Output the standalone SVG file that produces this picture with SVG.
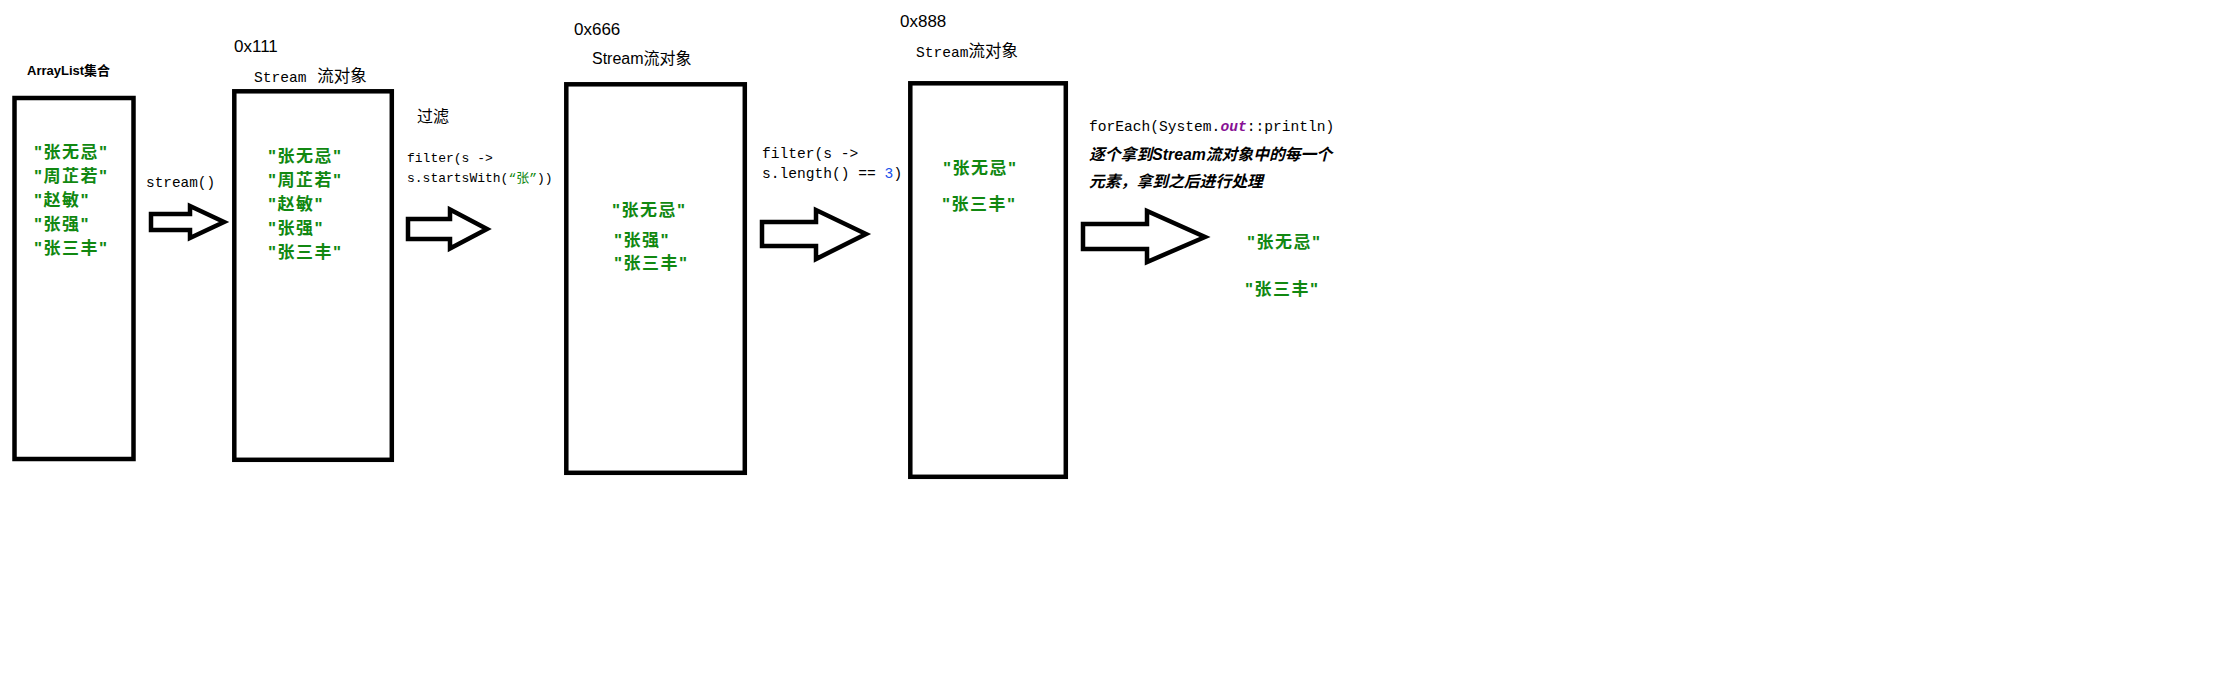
<svg xmlns="http://www.w3.org/2000/svg" width="2220" height="683" viewBox="0 0 2220 683">
<style>
.box{fill:none;stroke:#000;stroke-width:4.5}
.arr{fill:#fff;stroke:#000;stroke-width:4.5;stroke-linejoin:miter}
.g{fill:#118811;font-family:"Liberation Sans","Noto Sans CJK SC",sans-serif;font-size:17px;font-weight:bold;letter-spacing:1.5px}
.s{fill:#000;font-family:"Liberation Sans","Noto Sans CJK SC",sans-serif;font-size:17px}
.m{fill:#000;font-family:"Liberation Mono","Noto Sans CJK SC",monospace;font-size:14.6px}
.m13{fill:#000;font-family:"Liberation Mono","Noto Sans CJK SC",monospace;font-size:13px}
.cj{font-family:"Noto Sans CJK SC",sans-serif;font-size:16.5px}
.bi{fill:#000;font-family:"Liberation Sans","Noto Sans CJK SC",sans-serif;font-size:15.8px;font-weight:bold;font-style:italic}
</style>
<rect width="2220" height="683" fill="#fff"/>

<g id="arraylist">
<text x="27" y="75" class="s" style="font-size:13px;font-weight:bold">ArrayList集合</text>
<rect class="box" x="14.5" y="98" width="119" height="361"/>
<text class="g" x="34" y="157.5">"张无忌"</text>
<text class="g" x="34" y="182">"周芷若"</text>
<text class="g" x="34" y="206">"赵敏"</text>
<text class="g" x="34" y="230">"张强"</text>
<text class="g" x="34" y="254">"张三丰"</text>
</g>

<g id="stream1">
<text class="s" x="234" y="52">0x111</text>
<text class="m" x="254" y="82">Stream <tspan class="cj" dx="2">流对象</tspan></text>
<rect class="box" x="234.3" y="91.3" width="157.5" height="368.5"/>
<text class="g" x="268" y="161.5">"张无忌"</text>
<text class="g" x="268" y="185.5">"周芷若"</text>
<text class="g" x="268" y="210">"赵敏"</text>
<text class="g" x="268" y="234">"张强"</text>
<text class="g" x="268" y="258">"张三丰"</text>
</g>

<g id="stream2">
<text class="s" x="574" y="35">0x666</text>
<text class="s" x="592" y="64" style="font-size:16px">Stream流对象</text>
<rect class="box" x="566.3" y="84.3" width="178.5" height="388.5"/>
<text class="g" x="612" y="215.5">"张无忌"</text>
<text class="g" x="614" y="245.5">"张强"</text>
<text class="g" x="614" y="268.5">"张三丰"</text>
</g>

<g id="stream3">
<text class="s" x="900" y="27">0x888</text>
<text class="m" x="916" y="57">Stream<tspan class="cj">流对象</tspan></text>
<rect class="box" x="910.3" y="83.3" width="155.5" height="393.5"/>
<text class="g" x="943" y="173.5">"张无忌"</text>
<text class="g" x="942" y="209.5">"张三丰"</text>
</g>

<g id="output">
<text class="g" x="1247" y="247.5">"张无忌"</text>
<text class="g" x="1245" y="294.5">"张三丰"</text>
</g>

<g id="connectors">
<polygon class="arr" points="151,214 190,214 190,206 224,222 190,238 190,230 151,230"/>
<polygon class="arr" points="408,219 450,219 450,209.5 487,229 450,248.5 450,239 408,239"/>
<polygon class="arr" points="762,222 816,222 816,210 866,234 816,259 816,246 762,246"/>
<polygon class="arr" points="1083,224 1147,224 1147,211 1205,237 1147,262 1147,249 1083,249"/>
<text class="m" x="146" y="187" style="font-size:14.4px">stream()</text>
<text class="s" x="417" y="122" style="font-size:16px">过滤</text>
<text class="m13" x="407" y="162">filter(s -&gt;</text>
<text class="m13" x="407" y="182">s.startsWith(<tspan fill="#118811">“张”</tspan>))</text>
<text class="m" x="762" y="158">filter(s -&gt;</text>
<text class="m" x="762" y="178">s.length() == <tspan fill="#1750eb">3</tspan>)</text>
<text class="m" x="1089" y="131">forEach(System.<tspan fill="#871094" font-weight="bold" font-style="italic">out</tspan>::println)</text>
<text class="bi" x="1089" y="160">逐个拿到Stream流对象中的每一个</text>
<text class="bi" x="1089" y="187">元素，拿到之后进行处理</text>
</g>
</svg>
